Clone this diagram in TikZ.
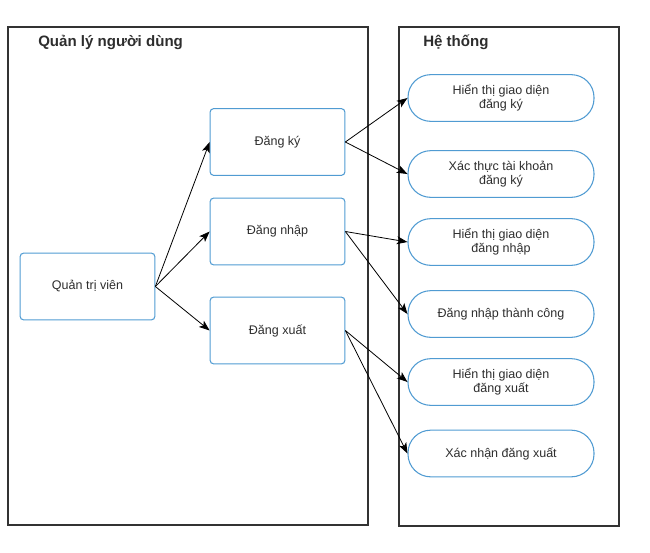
\documentclass[tikz,border=0pt]{standalone}
\usepackage{fontspec}
\setmainfont{Liberation Sans}
\usetikzlibrary{arrows.meta}
\definecolor{nodeblue}{RGB}{80,155,210}
\definecolor{txt}{RGB}{45,45,45}
\begin{document}
\begin{tikzpicture}[x=0.75pt,y=-0.75pt,
  container/.style={draw=black!80,line width=0.8pt},
  title/.style={font=\bfseries\fontsize{11.3}{13}\selectfont,text=txt,anchor=west,inner sep=0pt},
  actbox/.style={draw=nodeblue,line width=0.8pt,rounded corners=2.5pt,minimum width=101pt,minimum height=50pt,font=\fontsize{9.4}{11}\selectfont,text=txt,align=center},
  pill/.style={draw=nodeblue,line width=0.8pt,rounded corners=17pt,minimum width=139.5pt,minimum height=35pt,font=\fontsize{9.4}{10.8}\selectfont,text=txt,align=center},
  arr/.style={-{Stealth[length=8pt,width=6pt,inset=2pt]},black,line width=0.6pt}]
\useasboundingbox (0,0) rectangle (650,553);
\draw[container] (8,27) rectangle (368,525);
\draw[container] (399,27) rectangle (619,526);
\node[title] (t1) at (38,42) {Quản lý người dùng};
\node[title] (t2) at (423,42) {Hệ thống};
\node[actbox] (admin) at (87.5,286.5) {Quản trị viên};
\node[actbox] (dk) at (277.5,142) {Đăng ký};
\node[actbox] (dn) at (277.5,231.5) {Đăng nhập};
\node[actbox] (dx) at (277.5,330.5) {Đăng xuất};
\node[pill] (p1) at (501,98) {Hiển thị giao diện\\đăng ký};
\node[pill] (p2) at (501,174) {Xác thực tài khoản\\đăng ký};
\node[pill] (p3) at (501,242) {Hiển thị giao diện\\đăng nhập};
\node[pill] (p4) at (501,314) {Đăng nhập thành công};
\node[pill] (p5) at (501,382) {Hiển thị giao diện\\đăng xuất};
\node[pill] (p6) at (501,453.5) {Xác nhận đăng xuất};
\draw[arr] (admin.east) -- (dk.west);
\draw[arr] (admin.east) -- (dn.west);
\draw[arr] (admin.east) -- (dx.west);
\draw[arr] (dk.east) -- (p1.west);
\draw[arr] (dk.east) -- (p2.west);
\draw[arr] (dn.east) -- (p3.west);
\draw[arr] (dn.east) -- (p4.west);
\draw[arr] (dx.east) -- (p5.west);
\draw[arr] (dx.east) -- (p6.west);
\end{tikzpicture}
\end{document}
